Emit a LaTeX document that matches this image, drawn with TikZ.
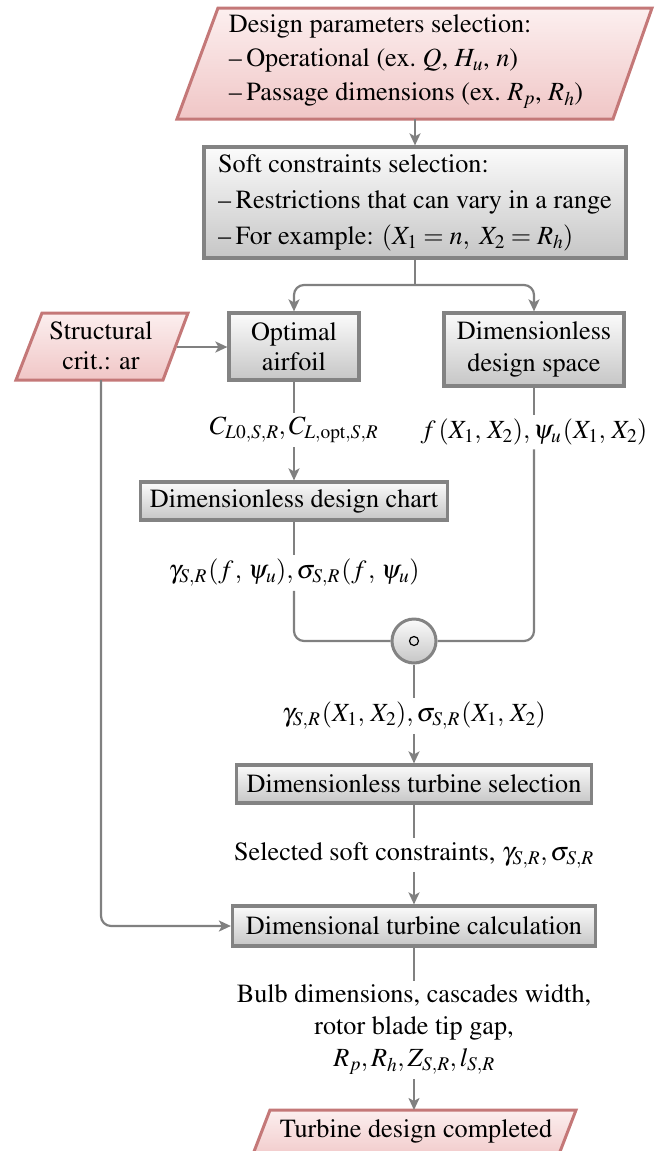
\documentclass[tikz,border=0pt]{standalone}
\usepackage[T1]{fontenc}
\usepackage{mathptmx}
\usetikzlibrary{arrows.meta,shapes.geometric,calc}
\definecolor{pinkborder}{HTML}{C47878}
\definecolor{pinktop}{HTML}{FCEFEF}
\definecolor{pinkbot}{HTML}{F0C6C6}
\definecolor{grayborder}{HTML}{838383}
\definecolor{graytop}{HTML}{FBFBFB}
\definecolor{graybot}{HTML}{C6C6C6}
\definecolor{lineclr}{HTML}{808080}
\newcommand{\fsz}{\fontsize{26.2}{34}\selectfont}
\tikzset{
  graybox/.style={rectangle, draw=grayborder, line width=3.2pt, top color=graytop, bottom color=graybot, inner sep=0pt, align=center, font=\fsz},
  parashape/.style={draw=pinkborder, line width=3pt, top color=pinktop, bottom color=pinkbot, line join=miter},
  txt/.style={inner sep=0pt, font=\fsz},
  lbl/.style={inner sep=4pt, font=\fsz, align=center},
  conn/.style={draw=lineclr, line width=2.2pt},
  arr/.style={conn, -{Stealth[length=12pt,width=11pt,inset=3pt]}},
}
\begin{document}
\begin{tikzpicture}[x=1pt,y=-1pt]
\useasboundingbox (0,0) rectangle (659,1151);
% top parallelogram
\path[parashape] (218,8) -- (652,8) -- (613,119) -- (177,119) -- cycle;
\node[txt, align=left] (dps) at (406,62) {Design parameters selection:\\
\textendash\,Operational (ex.~$Q$, $H_u$, $n$)\\
\textendash\,Passage dimensions (ex.~$R_p$, $R_h$)};
\coordinate (dpsS) at (415,119);
% soft constraints
\node[graybox, minimum width=422, minimum height=111, align=left, font=\fontsize{26.2}{36}\selectfont] (soft) at (415,202.5) {Soft constraints selection:\\
\textendash\,Restrictions that can vary in a range\\
\textendash\,For example: $(X_1 = n,\ X_2 = R_h)$};
\draw[arr] (dpsS) -- (soft.north);
% split
\coordinate (sp) at (415,285);
\node[graybox, minimum width=130, minimum height=67, font=\fontsize{26.2}{30}\selectfont] (oa) at (294,346.5) {Optimal\\airfoil};
\node[graybox, minimum width=180, minimum height=73, font=\fontsize{26.2}{32}\selectfont] (ds) at (534,349.5) {Dimensionless\\design space};
\draw[conn] (soft.south) -- (sp);
\draw[arr, rounded corners=10pt] (sp) -| (oa.north);
\draw[arr, rounded corners=10pt] (sp) -| (ds.north);
% structural
\path[parashape] (42,313) -- (188,313) -- (163,380) -- (16,380) -- cycle;
\node[txt, align=center, font=\fontsize{26.2}{30}\selectfont] (st) at (101,346) {Structural\\crit.: ar};
\coordinate (stE) at (177,347);
\coordinate (stS) at (101,380);
\draw[arr] (stE) -- (oa.west |- stE);
% labels
\node[lbl] (lc) at (294,430) {$C_{L0,S,R}, C_{L,\mathrm{opt},S,R}$};
\node[lbl] (lf) at (534,432) {$f\mkern2mu(X_1,\, X_2), \psi_u\mkern1mu(X_1,\, X_2)$};
\draw[conn] (oa.south) -- (lc.north);
\draw[conn] (ds.south) -- (lf.north);
\node[graybox, minimum width=307, minimum height=38] (chart) at (294,501) {Dimensionless design chart};
\draw[arr] (lc.south) -- (chart.north);
\node[lbl] (lg) at (294,573) {$\gamma_{S,R}\mkern1mu(f\mkern1mu,\, \psi_u), \sigma_{S,R}\mkern1mu(f\mkern1mu,\, \psi_u)$};
\draw[conn] (chart.south) -- (lg.north);
% merge circle
\node[circle, draw=grayborder, line width=3pt, top color=graytop, bottom color=graybot, minimum size=44pt, inner sep=0pt] (circ) at (414,641) {};
\node[circle, draw=black, line width=1.2pt, minimum size=9pt, inner sep=0pt] (circin) at (circ.center) {};
\draw[conn, rounded corners=10pt] (lg.south) |- (circ.west);
\draw[conn, rounded corners=10pt] (lf.south) |- (circ.east);
\node[lbl] (lx) at (414,716) {$\gamma_{S,R}\mkern1mu(X_1,\, X_2), \sigma_{S,R}\mkern1mu(X_1,\, X_2)$};
\draw[conn] (circ.south) -- (lx.north);
\node[graybox, minimum width=355, minimum height=38] (sel) at (414,784) {Dimensionless turbine selection};
\draw[arr] (lx.south) -- (sel.north);
\node[lbl] (ls) at (414,855) {Selected soft constraints, $\gamma_{S,R}, \sigma_{S,R}$};
\draw[conn] (sel.south) -- (ls.north);
\node[graybox, minimum width=363, minimum height=40] (calc) at (414,926) {Dimensional turbine calculation};
\draw[arr] (ls.south) -- (calc.north);
\draw[arr, rounded corners=10pt] (stS) |- (calc.west);
\node[lbl, font=\fontsize{26.2}{32}\selectfont] (lb) at (414,1030) {Bulb dimensions, cascades width,\\rotor blade tip gap,\\$R_p, R_h, Z_{S,R}, l_{S,R}$};
\draw[conn] (calc.south) -- (lb.north);
% final parallelogram
\path[parashape] (270,1110) -- (576,1110) -- (556,1162) -- (250,1162) -- cycle;
\node[txt] (fin) at (416,1131) {Turbine design completed};
\coordinate (finN) at (414,1110);
\draw[arr] (lb.south) -- (finN);
\end{tikzpicture}
\end{document}
